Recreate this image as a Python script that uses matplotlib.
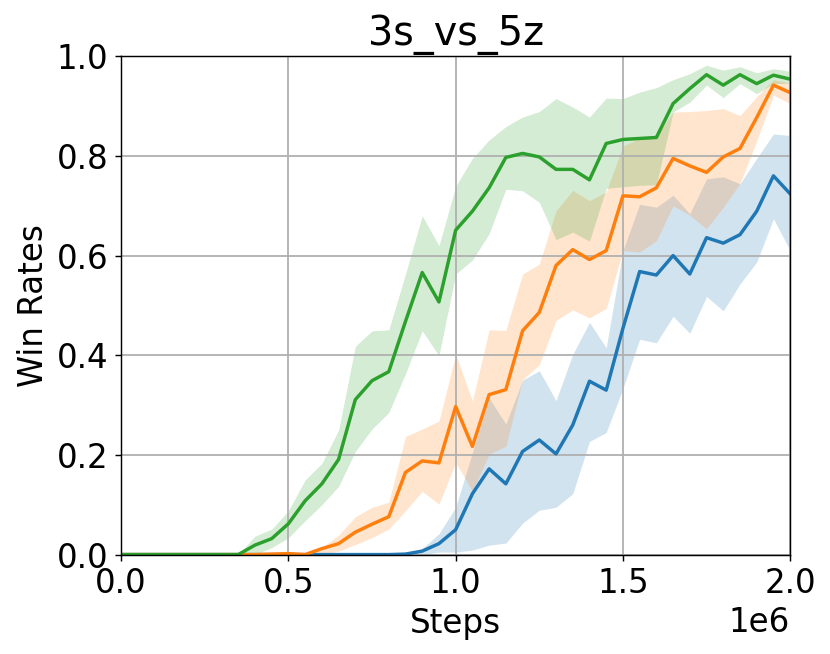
import numpy as np
import matplotlib
matplotlib.use("Agg")
import matplotlib.pyplot as plt

# steps: one point every 50k up to 2M
steps = np.arange(41) * 50000

blue_mean = [0, 0, 0, 0, 0, 0, 0, 0, 0, 0,
             0, 0, 0, 0, 0, 0, 0, 0.001, 0.007, 0.022,
             0.05, 0.122, 0.172, 0.142, 0.207, 0.23, 0.202, 0.26, 0.348, 0.33,
             0.454, 0.568, 0.561, 0.6, 0.563, 0.636, 0.625, 0.642, 0.689, 0.76,
             0.724]
blue_upper = [0, 0, 0, 0, 0, 0, 0, 0, 0, 0,
              0, 0, 0, 0, 0, 0, 0, 0.002, 0.012, 0.042,
              0.095, 0.205, 0.314, 0.262, 0.35, 0.369, 0.309, 0.402, 0.466, 0.415,
              0.61, 0.703, 0.697, 0.721, 0.684, 0.754, 0.758, 0.744, 0.795, 0.844,
              0.841]
blue_lower = [0, 0, 0, 0, 0, 0, 0, 0, 0, 0,
              0, 0, 0, 0, 0, 0, 0, 0, 0, 0.005,
              0.005, 0.009, 0.019, 0.023, 0.063, 0.089, 0.095, 0.122, 0.227, 0.245,
              0.333, 0.432, 0.425, 0.478, 0.444, 0.518, 0.489, 0.543, 0.587, 0.674,
              0.61]

orange_mean = [0, 0, 0, 0, 0, 0, 0, 0, 0, 0.001,
               0.002, 0, 0.012, 0.022, 0.045, 0.061, 0.076, 0.165, 0.188, 0.184,
               0.297, 0.217, 0.321, 0.331, 0.449, 0.486, 0.58, 0.612, 0.592, 0.61,
               0.72, 0.718, 0.736, 0.795, 0.78, 0.767, 0.798, 0.815, 0.877, 0.942,
               0.927]
orange_upper = [0, 0, 0, 0, 0, 0, 0, 0, 0, 0.002,
                0.004, 0.002, 0.014, 0.039, 0.076, 0.095, 0.105, 0.237, 0.252, 0.268,
                0.402, 0.308, 0.451, 0.45, 0.563, 0.583, 0.69, 0.731, 0.71, 0.728,
                0.82, 0.835, 0.84, 0.888, 0.889, 0.891, 0.895, 0.881, 0.919, 0.953,
                0.946]
orange_lower = [0, 0, 0, 0, 0, 0, 0, 0, 0, 0,
                0, 0, 0, 0.007, 0.02, 0.034, 0.051, 0.088, 0.127, 0.101,
                0.185, 0.127, 0.202, 0.217, 0.351, 0.381, 0.47, 0.491, 0.475, 0.494,
                0.61, 0.607, 0.63, 0.70, 0.681, 0.654, 0.697, 0.745, 0.83, 0.922,
                0.905]

green_mean = [0, 0, 0, 0, 0, 0, 0, 0, 0.019, 0.032,
              0.062, 0.108, 0.142, 0.191, 0.311, 0.349, 0.367, 0.468, 0.566, 0.507,
              0.651, 0.689, 0.736, 0.797, 0.805, 0.798, 0.773, 0.773, 0.752, 0.825,
              0.833, 0.835, 0.837, 0.905, 0.935, 0.963, 0.942, 0.963, 0.945, 0.962,
              0.954]
green_upper = [0, 0, 0, 0, 0, 0, 0, 0, 0.037, 0.051,
               0.088, 0.15, 0.183, 0.25, 0.418, 0.449, 0.451, 0.563, 0.68, 0.62,
               0.739, 0.795, 0.832, 0.859, 0.878, 0.889, 0.915, 0.898, 0.878, 0.916,
               0.915, 0.928, 0.937, 0.953, 0.965, 0.982, 0.972, 0.979, 0.967, 0.975,
               0.97]
green_lower = [0, 0, 0, 0, 0, 0, 0, 0, 0, 0.014,
               0.034, 0.068, 0.1, 0.137, 0.207, 0.252, 0.285, 0.363, 0.449, 0.399,
               0.563, 0.591, 0.644, 0.733, 0.73, 0.707, 0.632, 0.647, 0.629, 0.735,
               0.738, 0.741, 0.742, 0.888, 0.908, 0.942, 0.917, 0.945, 0.925, 0.945,
               0.946]

plt.rcParams['font.size'] = 18

fig = plt.figure(figsize=(830 / 130, 654 / 130), dpi=130)
ax = fig.add_subplot(111)
fig.subplots_adjust(left=0.146, right=0.952, top=0.914, bottom=0.152)

for mean, lo, hi, c in [(blue_mean, blue_lower, blue_upper, 'C0'),
                        (orange_mean, orange_lower, orange_upper, 'C1'),
                        (green_mean, green_lower, green_upper, 'C2')]:
    ax.plot(steps, mean, color=c, linewidth=1.9)
    ax.fill_between(steps, lo, hi, color=c, alpha=0.2, linewidth=0)

ax.set_xlim(0, 2000000)
ax.set_ylim(0, 1.0)
ax.grid(True, linewidth=1.0)
ax.set_title('3s_vs_5z', fontsize=22)
ax.set_xlabel('Steps')
ax.set_ylabel('Win Rates')

fig.savefig('out.png', dpi=130)
